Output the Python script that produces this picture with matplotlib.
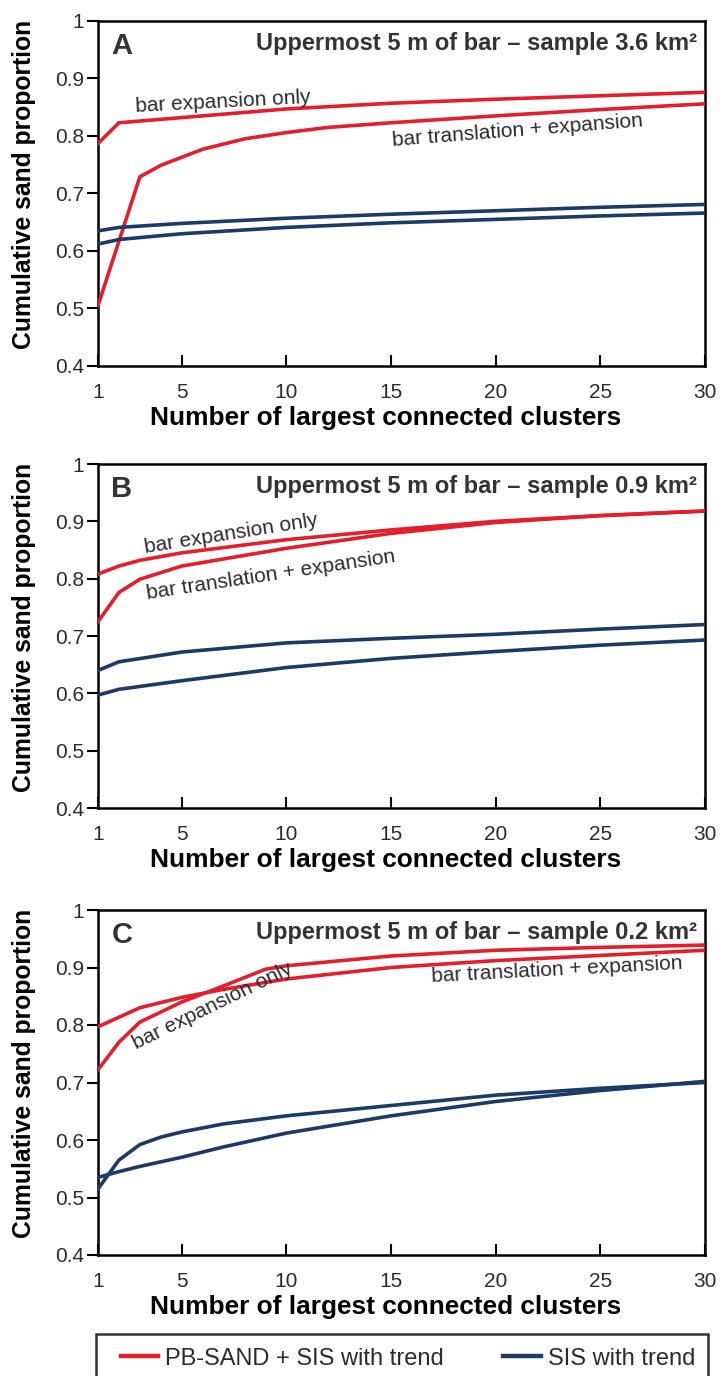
"""Cumulative sand proportion versus number of largest connected clusters."""
import matplotlib.pyplot as plt
from matplotlib.lines import Line2D
from matplotlib.patches import Rectangle
from matplotlib.ticker import FixedLocator

RED = "#E41E2B"
BLUE = "#1B3A66"
TXT = "#2B2B2B"
SANS = ["Liberation Sans", "DejaVu Sans"]

# Panel A - sample 3.6 km2
a_exp_x = [1, 2, 5, 10, 15, 20, 25, 30]
a_exp_y = [0.787, 0.823, 0.832, 0.847, 0.857, 0.864, 0.870, 0.876]
a_trans_x = [1, 2, 3, 4, 5, 6, 8, 10, 12, 15, 20, 25, 30]
a_trans_y = [0.505, 0.617, 0.729, 0.749, 0.763, 0.777, 0.795, 0.806, 0.815, 0.823, 0.835, 0.846, 0.856]
a_sis1_x = [1, 2, 5, 10, 15, 20, 25, 30]
a_sis1_y = [0.635, 0.641, 0.648, 0.657, 0.664, 0.670, 0.676, 0.681]
a_sis2_x = [1, 2, 5, 10, 15, 20, 25, 30]
a_sis2_y = [0.612, 0.620, 0.630, 0.641, 0.649, 0.655, 0.661, 0.666]

# Panel B - sample 0.9 km2
b_exp_x = [1, 2, 3, 5, 10, 15, 20, 25, 30]
b_exp_y = [0.808, 0.822, 0.832, 0.845, 0.868, 0.885, 0.900, 0.910, 0.918]
b_trans_x = [1, 2, 3, 5, 10, 15, 20, 25, 30]
b_trans_y = [0.725, 0.776, 0.799, 0.822, 0.853, 0.879, 0.898, 0.910, 0.918]
b_sis1_x = [1, 2, 5, 10, 15, 20, 25, 30]
b_sis1_y = [0.640, 0.655, 0.672, 0.688, 0.696, 0.703, 0.712, 0.720]
b_sis2_x = [1, 2, 5, 10, 15, 20, 25, 30]
b_sis2_y = [0.597, 0.607, 0.622, 0.645, 0.661, 0.673, 0.684, 0.693]

# Panel C - sample 0.2 km2
c_exp_x = [1, 3, 5, 7, 10, 15, 20, 25, 30]
c_exp_y = [0.797, 0.830, 0.848, 0.862, 0.880, 0.900, 0.912, 0.921, 0.930]
c_trans_x = [1, 2, 3, 5, 7, 9, 10, 15, 20, 25, 30]
c_trans_y = [0.722, 0.770, 0.805, 0.840, 0.868, 0.897, 0.903, 0.920, 0.930, 0.935, 0.939]
c_sis1_x = [1, 2, 3, 4, 5, 7, 10, 15, 20, 25, 30]
c_sis1_y = [0.515, 0.565, 0.592, 0.605, 0.614, 0.628, 0.642, 0.660, 0.678, 0.690, 0.700]
c_sis2_x = [1, 2, 3, 5, 7, 10, 15, 20, 25, 30]
c_sis2_y = [0.535, 0.545, 0.554, 0.570, 0.588, 0.612, 0.642, 0.667, 0.686, 0.702]

x_ticks = [1, 5, 10, 15, 20, 25, 30]
y_ticks = [0.4, 0.5, 0.6, 0.7, 0.8, 0.9, 1.0]
y_tick_labels = ["0.4", "0.5", "0.6", "0.7", "0.8", "0.9", "1"]

panels = [
    ("A", "3.6",
     [(a_exp_x, a_exp_y, RED), (a_trans_x, a_trans_y, RED),
      (a_sis1_x, a_sis1_y, BLUE), (a_sis2_x, a_sis2_y, BLUE)],
     [("bar expansion only", 2.8, 0.842, 3),
      ("bar translation + expansion", 15.1, 0.783, 4.5)]),
    ("B", "0.9",
     [(b_exp_x, b_exp_y, RED), (b_trans_x, b_trans_y, RED),
      (b_sis1_x, b_sis1_y, BLUE), (b_sis2_x, b_sis2_y, BLUE)],
     [("bar expansion only", 3.25, 0.845, 9),
      ("bar translation + expansion", 3.35, 0.764, 8.5)]),
    ("C", "0.2",
     [(c_exp_x, c_exp_y, RED), (c_trans_x, c_trans_y, RED),
      (c_sis1_x, c_sis1_y, BLUE), (c_sis2_x, c_sis2_y, BLUE)],
     [("bar expansion only", 2.85, 0.757, 26),
      ("bar translation + expansion", 16.95, 0.875, 3)]),
]

fig = plt.figure(figsize=(7.24, 13.76), dpi=100)

W = 724.0
H = 1376.0
left, right = 98 / W, 705 / W
tops = [21, 464, 910]
bottoms = [366, 808, 1255]

for (letter, area, lines, notes), top, bot in zip(panels, tops, bottoms):
    ax = fig.add_axes([left, 1 - bot / H, right - left, (bot - top) / H])
    for xs, ys, col in lines:
        ax.plot(xs, ys, color=col, lw=2.6, solid_joinstyle="miter", zorder=3)

    ax.set_xlim(1, 30)
    ax.set_ylim(0.4, 1.0)

    ax.set_yticks(y_ticks)
    ax.set_yticklabels(y_tick_labels, family=SANS, fontsize=15)
    ax.set_xticks(x_ticks)
    ax.set_xticklabels([str(t) for t in x_ticks], family=SANS, fontsize=15)
    ax.xaxis.set_minor_locator(FixedLocator([1, 30]))
    ax.tick_params(axis="y", direction="out", length=8, width=1.5, pad=2,
                   colors="black", labelcolor=TXT)
    ax.tick_params(axis="x", which="major", direction="in", length=8, width=1.5,
                   pad=12, labelcolor=TXT)
    ax.tick_params(axis="x", which="minor", direction="out", length=6, width=1.5)
    for sp in ax.spines.values():
        sp.set_linewidth(1.8)

    ax.set_xlabel("Number of largest connected clusters", family=SANS,
                  fontsize=18.9, fontweight="bold", color="black")
    ax.xaxis.set_label_coords(0.4745, -0.116)
    ax.set_ylabel("Cumulative sand proportion", family=SANS,
                  fontsize=17.8, fontweight="bold", color="black")
    ax.yaxis.set_label_coords(-0.102, 0.525)

    ax.text(0.022, 0.903, letter, transform=ax.transAxes, family=SANS,
            fontsize=21, fontweight="bold", color="#333333", va="baseline")
    ax.text(0.987, 0.915, "Uppermost 5 m of bar \u2013 sample " + area + " km\u00b2",
            transform=ax.transAxes, family=SANS, fontsize=17, fontweight="bold",
            color="#333333", ha="right", va="baseline")

    for label, tx, ty, rot in notes:
        ax.text(tx, ty, label, family=SANS, fontsize=15, color=TXT,
                rotation=rot, rotation_mode="anchor", ha="left", va="baseline")

# legend frame spans the panel width and runs off the bottom edge
fig.patches.append(Rectangle((96 / W, -0.01), 612 / W, 0.01 + 1 - 1334 / H,
                             transform=fig.transFigure, fill=False,
                             edgecolor="#333333", lw=1.8))

handles = [Line2D([], [], color=RED, lw=3.2), Line2D([], [], color=BLUE, lw=3.2)]
leg = fig.legend(handles, ["PB-SAND + SIS with trend", "SIS with trend"],
                 loc="upper left", bbox_to_anchor=(104 / W, 1 - 1331 / H),
                 ncol=2, frameon=False, handlelength=1.6, handletextpad=0.3,
                 columnspacing=2.5, borderpad=0.2,
                 prop={"family": SANS, "size": 17})
for t in leg.get_texts():
    t.set_color(TXT)

fig.savefig("out.png", dpi=100)
